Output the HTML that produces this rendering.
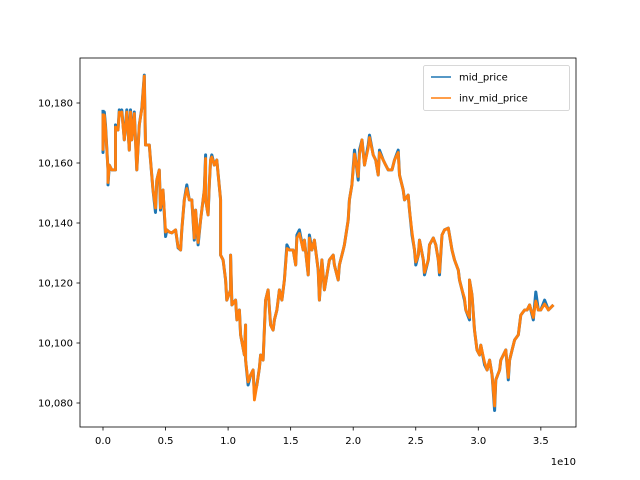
<!DOCTYPE html>
<html><head><meta charset="utf-8"><style>
body{margin:0;background:#fff}
svg{display:block;font-family:"DejaVu Sans","Liberation Sans",sans-serif}
</style></head><body>
<svg id="chart" width="640" height="480" viewBox="0 0 640 480">
<rect width="640" height="480" fill="#fff"/>
<g id="plot"></g>
<g id="axes"></g>
</svg>
<script>
const times=[0,0,0.01,0.02,0.04,0.04,0.05,0.07,0.10,0.10,0.12,0.13,0.14,0.15,0.17,0.19,0.21,0.22,0.23,0.25,0.27,0.29,0.31,0.33,0.34,0.37,0.38,0.40,0.42,0.43,0.45,0.46,0.48,0.50,0.51,0.53,0.55,0.58,0.60,0.62,0.63,0.65,0.67,0.69,0.71,0.73,0.74,0.76,0.78,0.81,0.82,0.82,0.84,0.85,0.86,0.87,0.89,0.91,0.94,0.94,0.96,0.98,0.99,1.02,1.02,1.03,1.06,1.07,1.09,1.10,1.13,1.14,1.14,1.16,1.18,1.20,1.21,1.23,1.25,1.26,1.28,1.30,1.32,1.34,1.36,1.37,1.39,1.41,1.43,1.45,1.47,1.49,1.52,1.54,1.55,1.57,1.60,1.61,1.64,1.65,1.67,1.69,1.72,1.73,1.75,1.77,1.79,1.81,1.84,1.85,1.88,1.89,1.92,1.93,1.96,1.97,1.99,2.01,2.02,2.04,2.05,2.07,2.09,2.12,2.13,2.16,2.18,2.20,2.21,2.24,2.26,2.28,2.31,2.33,2.36,2.37,2.40,2.41,2.44,2.45,2.47,2.49,2.50,2.52,2.53,2.56,2.57,2.60,2.61,2.64,2.66,2.68,2.69,2.71,2.73,2.76,2.77,2.79,2.81,2.84,2.85,2.87,2.89,2.90,2.93,2.93,2.95,2.97,2.99,3.01,3.02,3.05,3.07,3.09,3.11,3.13,3.14,3.17,3.18,3.20,3.22,3.24,3.25,3.27,3.29,3.32,3.34,3.37,3.39,3.41,3.44,3.46,3.48,3.50,3.53,3.56,3.60];
const midPrice=[10177.7,10163.5,10177,10172.7,10157.7,10152.7,10159.3,10157.7,10157.7,10172.7,10171,10177.7,10176,10177.7,10167.7,10177.7,10164.3,10177.7,10167.7,10177,10157.7,10172.7,10178.3,10189.3,10166,10166,10161,10151,10143.5,10154.3,10157.7,10144.3,10151,10135.5,10137.7,10137,10136.7,10137.7,10131.7,10131,10137.7,10147.7,10152.7,10147.7,10147.7,10134.3,10144.3,10132.7,10141,10151,10162.7,10147.7,10142.7,10152.7,10161,10162.7,10159.3,10161,10147.7,10129.3,10127.7,10121,10114.3,10117.7,10129.3,10112.7,10114.3,10107.7,10111,10102.7,10096,10106,10094.3,10086,10089.3,10091,10083,10086,10091.7,10096,10094.3,10114.3,10117.7,10106,10104.3,10107.7,10111,10117.7,10114.3,10121,10132.7,10131,10131,10126,10136,10137.7,10131,10134.3,10122.7,10136,10131,10134.3,10124.3,10114.3,10127.7,10117.7,10122.7,10127.7,10129.3,10126,10121,10126,10131,10132.7,10141,10147.7,10152.7,10164.3,10161,10154.3,10164.3,10167.7,10159.3,10166,10169.3,10162.7,10161,10156,10164.3,10161,10159.3,10157.7,10157.7,10161,10164.3,10156,10151,10147.7,10149.3,10144.3,10136,10131,10126,10129.3,10134.3,10127.7,10122.7,10127.7,10132.7,10135,10132.7,10127.7,10122.7,10136,10137.7,10138.3,10136,10131,10127.7,10124.3,10121,10117.7,10114.3,10111,10107.7,10121,10116,10104.3,10097.7,10096,10099.3,10092.7,10091,10094.3,10089.3,10077.5,10087.7,10091,10094.3,10096,10097.7,10087.7,10094.3,10097.7,10101,10102.7,10109.3,10111,10111,10112.7,10107.7,10117,10111,10111,10114.3,10111,10112.7];
const invMidPrice=[10176.5,10164.5,10176,10172,10157.7,10153.5,10159.3,10157.7,10157.7,10172,10171,10177,10176,10177,10167.7,10177,10164.3,10177,10167.7,10176.5,10157.7,10172.7,10178,10189,10166,10166,10161,10151,10145,10154.3,10157.7,10145,10151,10137,10137.7,10137,10136.7,10137.7,10132,10131,10137.7,10147.7,10151.5,10147.7,10147.7,10135,10144.3,10133.5,10141,10151,10161.5,10147.7,10142.7,10152.7,10161,10162,10159.3,10161,10147.7,10129.3,10127.7,10121,10114.3,10117.7,10129.3,10112.7,10114.3,10107.7,10111,10102.7,10096,10106,10094.3,10087,10089.3,10091,10081,10086,10091.7,10096,10094.3,10114.3,10117.7,10106,10104.3,10107.7,10111,10117.7,10114.3,10121,10131.5,10131,10131,10126,10135,10136.5,10131,10134.3,10122.7,10135,10131,10134.3,10124.3,10114.3,10127.7,10117.7,10122.7,10127.7,10129.3,10126,10121,10126,10131,10132.7,10141,10147.7,10152.7,10163,10161,10155.5,10163,10167.7,10159.3,10165,10168.5,10162.7,10161,10156,10163.5,10161,10159.3,10157.7,10157.7,10161,10163.5,10156,10151,10147.7,10149.3,10144.3,10137,10131,10127,10129.3,10134.3,10127.7,10123.5,10127.7,10132.7,10135,10132.7,10127.7,10123.5,10136,10137.7,10138.3,10136,10131,10127.7,10124.3,10121,10117.7,10115,10111,10108.5,10121,10116,10104.3,10097.7,10096,10099.3,10093.5,10091,10094.3,10089.3,10079,10087.7,10091,10094.3,10096,10097.7,10088.5,10094.3,10097.7,10101,10102.7,10109.3,10111,10111,10112.7,10108.5,10114,10111,10111,10113,10111,10112.7];
const xTicks=[0,0.5,1.0,1.5,2.0,2.5,3.0,3.5];
const xTickLabels=["0.0","0.5","1.0","1.5","2.0","2.5","3.0","3.5"];
const yTicks=[10080,10100,10120,10140,10160,10180];
const yTickLabels=["10,080","10,100","10,120","10,140","10,160","10,180"];
const seriesNames=["mid_price","inv_mid_price"];

const NS="http://www.w3.org/2000/svg";
const L=80,R=576,T=58,B=427;
function xs(v){return 103+v*125.1;}
function ys(v){return 103+(10180-v)*3;}
function mk(tag,attrs,parent){const e=document.createElementNS(NS,tag);for(const k in attrs)e.setAttribute(k,attrs[k]);parent.appendChild(e);return e;}
const plot=document.getElementById('plot'),axes=document.getElementById('axes');
function drawLine(vals,color,name,w){
  const d=times.map((t,i)=>(i?'L':'M')+xs(t).toFixed(1)+','+ys(vals[i]).toFixed(1)).join('');
  const p=mk('path',{d:d,fill:'none',stroke:color,'stroke-width':w,'stroke-linejoin':'round'},plot);
  
  
}
drawLine(midPrice,'#1f77b4','mid-price-line',3.0);
drawLine(invMidPrice,'#ff7f0e','inv-mid-price-line',2.8);
const frame=mk('rect',{x:L,y:T,width:R-L,height:B-T,fill:'none',stroke:'#000','stroke-width':0.8},axes);


xTicks.forEach((v,i)=>{
  const x=xs(v);
  const t=mk('line',{x1:x,x2:x,y1:B,y2:B+3.5,stroke:'#000','stroke-width':0.8},axes);
  
  
  const l=mk('text',{x:x,y:B+17,'font-size':10,'text-anchor':'middle'},axes);
  l.textContent=xTickLabels[i];
  
  
});
yTicks.forEach((v,i)=>{
  const y=ys(v);
  const t=mk('line',{x1:L-3.5,x2:L,y1:y,y2:y,stroke:'#000','stroke-width':0.8},axes);
  
  
  const l=mk('text',{x:L-7,y:y+3.5,'font-size':10,'text-anchor':'end'},axes);
  l.textContent=yTickLabels[i];
  
  
});
const off=mk('text',{x:576,y:465,'font-size':10,'text-anchor':'end'},axes);
off.textContent='1e10';


const lg=mk('g',{},axes);


mk('rect',{x:423.5,y:65.5,width:146,height:45,rx:2,fill:'#fff','fill-opacity':0.8,stroke:'#ccc','stroke-width':0.8},lg);
const colors=['#1f77b4','#ff7f0e'];
seriesNames.forEach((n,i)=>{
  const y=77+i*21;
  const ln=mk('line',{x1:431,x2:451,y1:y,y2:y,stroke:colors[i],'stroke-width':1.5},lg);
  
  
  const tx=mk('text',{x:459,y:y+3.5,'font-size':10},lg);
  tx.textContent=n;
  
  
});
</script>
</body></html>
